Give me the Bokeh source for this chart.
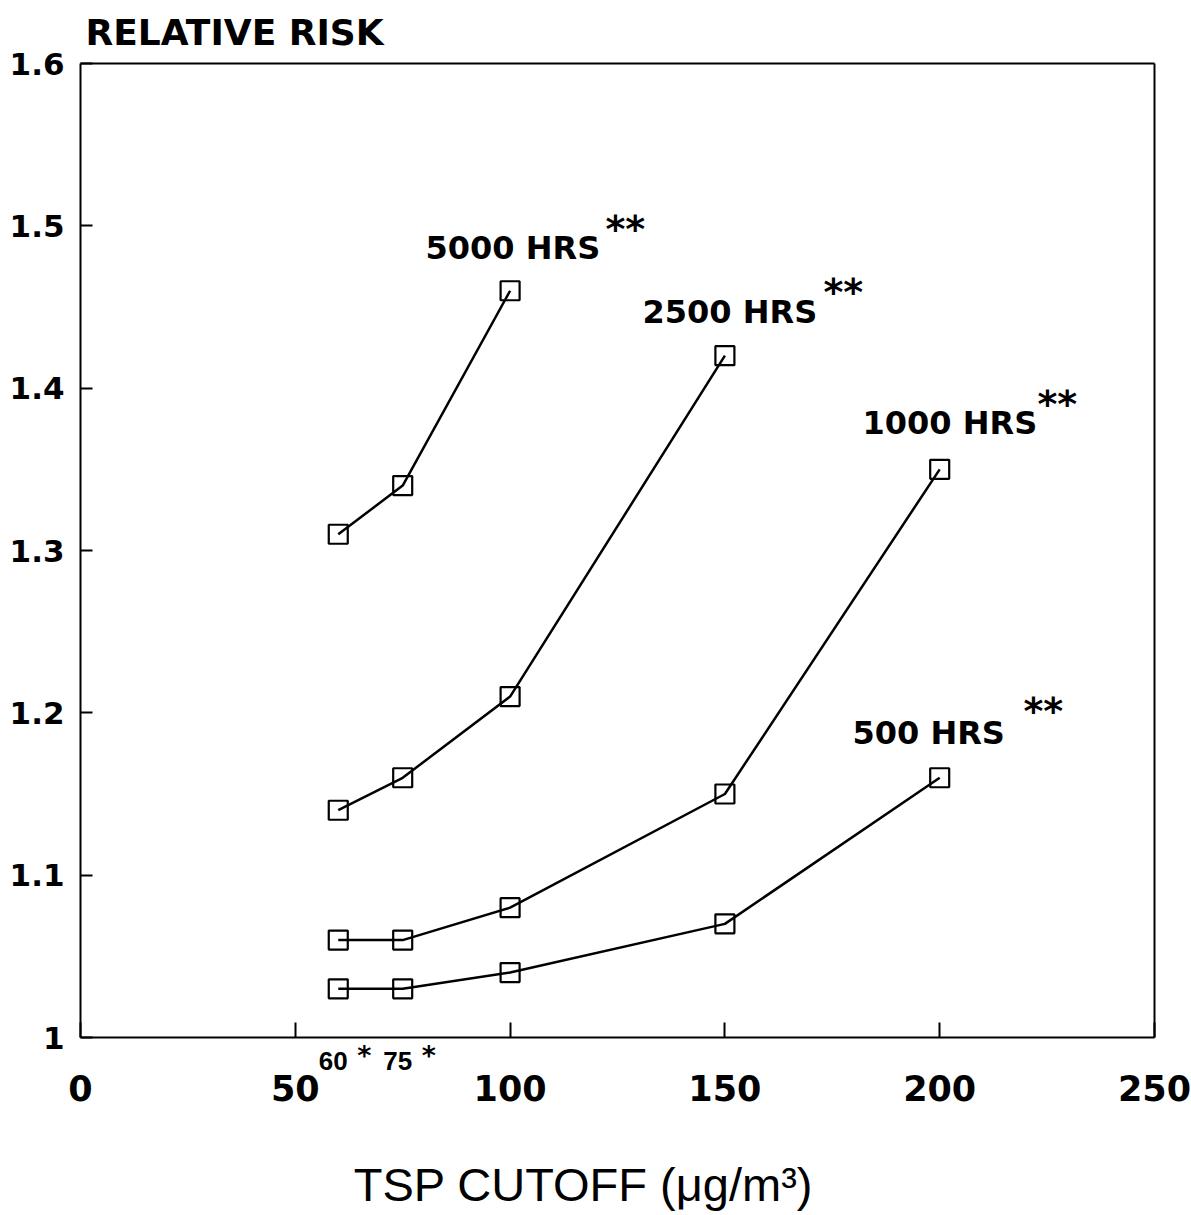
from bokeh.plotting import figure
from bokeh.models import Range1d, FixedTicker, ColumnDataSource, LinearAxis
from bokeh.core.properties import value
from bokeh.embed import file_html
from bokeh.resources import INLINE

# ---- data ----
cutoffs = [60, 75, 100, 150, 200]
rr_5000 = [1.31, 1.34, 1.46]
rr_2500 = [1.14, 1.16, 1.21, 1.42]
rr_1000 = [1.06, 1.06, 1.08, 1.15, 1.35]
rr_500 = [1.03, 1.03, 1.04, 1.07, 1.16]
series_names = ["5000 HRS", "2500 HRS", "1000 HRS", "500 HRS"]
x_ticks = [0, 50, 100, 150, 200, 250]
y_ticks = [1.0, 1.1, 1.2, 1.3, 1.4, 1.5, 1.6]
y_tick_labels = ["1", "1.1", "1.2", "1.3", "1.4", "1.5", "1.6"]
starred_cutoffs = [60, 75]
starred_labels = ["60", "75"]
X0, X1 = 0, 250
Y0, Y1 = 1.0, 1.6

# ---- layout (pixels) ----
W, H = 1191, 1215
BOX_L, BOX_R, BOX_T, BOX_B = 80, 1154, 63, 1037
SX = (BOX_R - BOX_L) / (X1 - X0)
SY = (BOX_B - BOX_T) / (Y1 - Y0)


def dx(px):
    return X0 + (px - BOX_L) / SX


def dy(py):
    return Y0 + (BOX_B - py) / SY


p = figure(width=W, height=H, x_range=Range1d(dx(0), dx(W)), y_range=Range1d(dy(H), dy(0)),
           output_backend="svg", toolbar_location=None, x_axis_location=None,
           y_axis_location=None, min_border=0)
p.title.text = ""
p.background_fill_color = "white"
p.border_fill_color = "white"
p.outline_line_color = None
p.xgrid.visible = False
p.ygrid.visible = False

# bottom axis
xa = LinearAxis(ticker=FixedTicker(ticks=x_ticks), fixed_location=Y0, bounds=(X0, X1))
xa.major_tick_in = 15
xa.major_tick_out = 0
xa.minor_tick_line_color = None
xa.axis_line_width = 2
xa.major_tick_line_width = 2
xa.major_label_standoff = 37
xa.major_label_text_font = "DejaVu Sans"
xa.major_label_text_font_style = "bold"
xa.major_label_text_font_size = "35px"
xa.major_label_text_color = "black"
p.add_layout(xa, "below")

# left axis
ya = LinearAxis(ticker=FixedTicker(ticks=y_ticks), fixed_location=X0, bounds=(Y0, Y1))
ya.major_label_overrides = {t: l for t, l in zip(y_ticks, y_tick_labels)}
ya.major_tick_in = 12
ya.major_tick_out = 0
ya.minor_tick_line_color = None
ya.axis_line_width = 2
ya.major_tick_line_width = 2
ya.major_label_standoff = 16
ya.major_label_text_font = "DejaVu Sans"
ya.major_label_text_font_style = "bold"
ya.major_label_text_font_size = "31px"
ya.major_label_text_color = "black"
p.add_layout(ya, "left")

# top and right frame lines
ta = LinearAxis(ticker=FixedTicker(ticks=[]), fixed_location=Y1, bounds=(X0, X1),
                major_tick_line_color=None, minor_tick_line_color=None, axis_line_width=2)
p.add_layout(ta, "above")
ra = LinearAxis(ticker=FixedTicker(ticks=[]), fixed_location=X1, bounds=(Y0, Y1),
                major_tick_line_color=None, minor_tick_line_color=None, axis_line_width=2)
p.add_layout(ra, "right")

all_series = [rr_5000, rr_2500, rr_1000, rr_500]
for vals in all_series:
    xs = cutoffs[:len(vals)]
    p.line(xs, vals, line_color="black", line_width=2.5)
    p.scatter(xs, vals, marker="square", size=19, fill_alpha=0,
              line_color="black", line_width=2.2)

# series labels (text + superscript asterisks), pixel anchors (left, vertical middle)
name_px = [(425, 247), (642, 311), (862, 422), (852, 732)]
star_px = [(605, 228), (823, 291), (1037, 403), (1023, 710)]
p.text(x=[dx(a) for a, b in name_px], y=[dy(b) for a, b in name_px], text=series_names,
       text_font=value("DejaVu Sans"), text_font_style="bold", text_font_size="32px",
       text_color="black", text_align="left", text_baseline="middle")
p.text(x=[dx(a) for a, b in star_px], y=[dy(b) for a, b in star_px],
       text=["**"] * len(star_px),
       text_font=value("DejaVu Sans"), text_font_style="bold", text_font_size="38px",
       text_color="black", text_align="left", text_baseline="middle")

# 60*75* annotation under the axis
src = ColumnDataSource(dict(x=starred_cutoffs, y=[dy(1060)] * 2, t=starred_labels,
                            ys=[dy(1055)] * 2, s=["*", "*"]))
p.text(x="x", y="y", text="t", source=src, x_offset=-5,
       text_align="center", text_baseline="middle",
       text_font=value("Liberation Sans"), text_font_style="bold",
       text_font_size="26px", text_color="black")
p.text(x="x", y="ys", text="s", source=src, x_offset=26,
       text_align="center", text_baseline="middle",
       text_font=value("DejaVu Sans"), text_font_style="bold",
       text_font_size="27px", text_color="black")

# y-axis title on top and x-axis title below
p.text(x=[dx(85)], y=[dy(32)], text=["RELATIVE RISK"],
       text_font=value("DejaVu Sans"), text_font_style="bold", text_font_size="36px",
       text_color="black", text_align="left", text_baseline="middle")
p.text(x=[dx(583)], y=[dy(1184)], text=["TSP CUTOFF (\u03bcg/m\u00b3)"],
       text_font=value("Liberation Sans"), text_font_size="47px",
       text_color="black", text_align="center", text_baseline="middle")

open("out.html", "w").write(file_html(p, INLINE))
